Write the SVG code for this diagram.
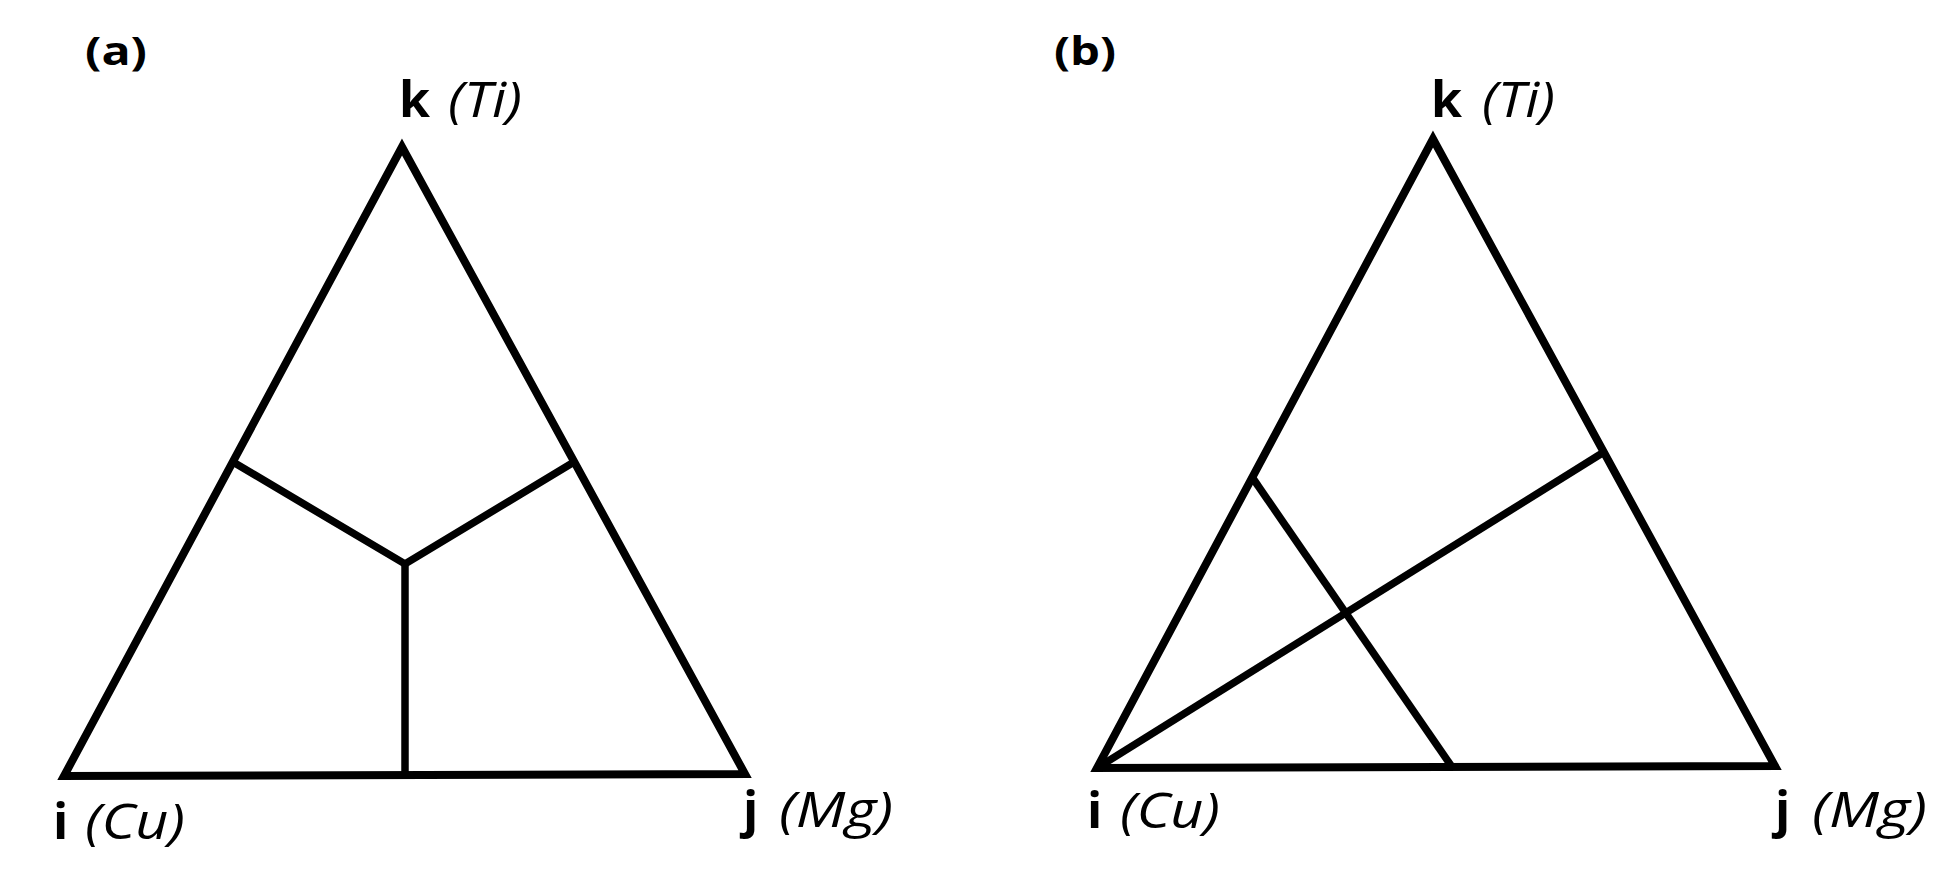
<svg xmlns="http://www.w3.org/2000/svg" width="1950" height="890" viewBox="0 0 1950 890">
<style>
.edge{fill:none;stroke:#000;stroke-width:8;stroke-linejoin:miter;stroke-miterlimit:10}
.div{fill:none;stroke:#000;stroke-width:7.5;stroke-linecap:butt}
.panel{font-family:"Open Sans","Liberation Sans",sans-serif;font-weight:700;font-size:40px;fill:#000}
.v{font-family:"Open Sans","Liberation Sans",sans-serif;font-weight:700;font-size:50px;fill:#000}
.el{font-family:"Open Sans","Liberation Sans",sans-serif;font-style:italic;font-weight:400;font-size:50px;fill:#000}
</style>
<rect width="1950" height="890" fill="#fff"/>
<g id="panel-a">
  <text class="panel" x="85" y="65" textLength="62" lengthAdjust="spacingAndGlyphs">(a)</text>
  <g id="a-triangle"><polygon class="edge" points="402,147 64,776 745,774"/></g>
  <g id="a-k"><text class="v" x="399" y="117">k</text><text class="el" x="448" y="117" textLength="74" lengthAdjust="spacingAndGlyphs">(Ti)</text></g>
  <g id="a-i"><text class="v" x="53" y="839">i</text><text class="el" x="85" y="839" textLength="100" lengthAdjust="spacingAndGlyphs">(Cu)</text></g>
  <g id="a-j"><text class="v" x="743" y="827">j</text><text class="el" x="779" y="827" textLength="114" lengthAdjust="spacingAndGlyphs">(Mg)</text></g>
</g>
<g id="panel-b">
  <text class="panel" x="1054" y="65" textLength="62" lengthAdjust="spacingAndGlyphs">(b)</text>
  <g id="b-triangle"><polygon class="edge" points="1433,139 1097,768 1775,766"/></g>
  <g id="b-k"><text class="v" x="1431" y="117">k</text><text class="el" x="1482" y="117" textLength="73" lengthAdjust="spacingAndGlyphs">(Ti)</text></g>
  <g id="b-i"><text class="v" x="1087" y="828">i</text><text class="el" x="1120" y="828" textLength="100" lengthAdjust="spacingAndGlyphs">(Cu)</text></g>
  <g id="b-j"><text class="v" x="1775" y="827">j</text><text class="el" x="1812" y="827" textLength="115" lengthAdjust="spacingAndGlyphs">(Mg)</text></g>
</g>
<g id="connectors">
  <polyline class="div" points="233,462 405,564 574,462"/>
  <line class="div" x1="405" y1="564" x2="405" y2="775"/>
  <line class="div" x1="1097" y1="768" x2="1604" y2="452"/>
  <line class="div" x1="1252" y1="477" x2="1452" y2="767"/>
</g>
</svg>
